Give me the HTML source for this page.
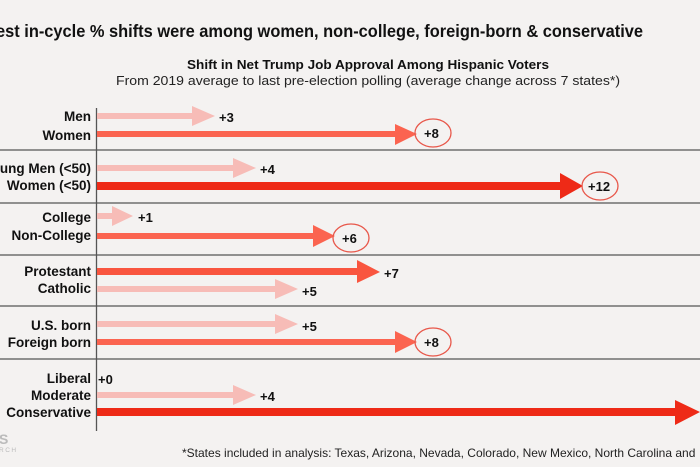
<!DOCTYPE html>
<html><head><meta charset="utf-8"><style>
html,body{margin:0;padding:0;background:#f4f2f1;}
svg{display:block;font-family:"Liberation Sans",sans-serif;}
.l{font-weight:bold;font-size:13.5px;fill:#111;text-anchor:end;}
.v{font-weight:bold;font-size:13px;fill:#111;}
</style></head><body>
<svg width="700" height="467" viewBox="0 0 700 467" xmlns="http://www.w3.org/2000/svg">
<rect width="700" height="467" fill="#f4f2f1"/>
<text x="-4" y="37" font-size="17.5" font-weight="bold" fill="#111" textLength="647" lengthAdjust="spacingAndGlyphs">est in-cycle % shifts were among women, non-college, foreign-born &amp; conservative</text>
<text x="187" y="69" font-size="13" font-weight="bold" fill="#111" textLength="362" lengthAdjust="spacingAndGlyphs">Shift in Net Trump Job Approval Among Hispanic Voters</text>
<text x="116" y="85" font-size="13" fill="#222" textLength="504" lengthAdjust="spacingAndGlyphs">From 2019 average to last pre-election polling (average change across 7 states*)</text>
<g stroke="#555" stroke-width="1.3">
<line x1="0" y1="150" x2="700" y2="150"/><line x1="0" y1="203" x2="700" y2="203"/>
<line x1="0" y1="255" x2="700" y2="255"/><line x1="0" y1="306" x2="700" y2="306"/>
<line x1="0" y1="359" x2="700" y2="359"/>
<line x1="96.5" y1="108" x2="96.5" y2="431"/>
</g>
<g class="l">
<text class="l" x="91" y="121">Men</text><text class="l" x="91" y="140">Women</text>
<text class="l" x="91" y="173">ung Men (&lt;50)</text><text class="l" x="91" y="190">Women (&lt;50)</text>
<text class="l" x="91" y="222">College</text><text class="l" x="91" y="240">Non-College</text>
<text class="l" x="91" y="276">Protestant</text><text class="l" x="91" y="293">Catholic</text>
<text class="l" x="91" y="330">U.S. born</text><text class="l" x="91" y="347">Foreign born</text>
<text class="l" x="91" y="383">Liberal</text><text class="l" x="91" y="400">Moderate</text><text class="l" x="91" y="417">Conservative</text>
</g>
<g>
<path d="M97 113H192V106L215 116L192 126V119H97Z" fill="#f7bcb7"/>
<path d="M97 131H395V124L417 134L395 145V137H97Z" fill="#fb6450"/>
<path d="M97 165H233V158L256 168L233 178V171H97Z" fill="#f7bcb7"/>
<path d="M97 182H560V173L583 186L560 199V190H97Z" fill="#ee2a17"/>
<path d="M97 213H112V206L133 216L112 226V219H97Z" fill="#f7bcb7"/>
<path d="M97 233H313V225L335 236L313 247V239H97Z" fill="#fb6450"/>
<path d="M97 268H357V260L380 272L357 283V275H97Z" fill="#f9553f"/>
<path d="M97 286H275V279L298 289L275 299V292H97Z" fill="#f7bcb7"/>
<path d="M97 321H275V314L298 324L275 334V327H97Z" fill="#f7bcb7"/>
<path d="M97 339H395V331L417 342L395 353V345H97Z" fill="#fb6450"/>
<path d="M97 392H233V385L256 395L233 405V398H97Z" fill="#f7bcb7"/>
<path d="M97 408H675V400L700 412L675 425V416H97Z" fill="#ee2a17"/>
</g>
<g fill="none" stroke="#e8574a" stroke-width="1.3">
<ellipse cx="433" cy="133" rx="18" ry="14"/>
<ellipse cx="600" cy="186" rx="18" ry="14"/>
<ellipse cx="351" cy="238" rx="18" ry="14"/>
<ellipse cx="433" cy="342" rx="18" ry="14"/>
</g>
<text class="v" x="219" y="122">+3</text>
<text class="v" x="424" y="138">+8</text>
<text class="v" x="260" y="174">+4</text>
<text class="v" x="588" y="191">+12</text>
<text class="v" x="138" y="222">+1</text>
<text class="v" x="342" y="243">+6</text>
<text class="v" x="384" y="278">+7</text>
<text class="v" x="302" y="296">+5</text>
<text class="v" x="302" y="331">+5</text>
<text class="v" x="424" y="347">+8</text>
<text class="v" x="98" y="384">+0</text>
<text class="v" x="260" y="401">+4</text>
<text x="-1" y="444" font-size="14" font-weight="bold" fill="#bbb">S</text>
<text x="-1" y="452" font-size="6.5" fill="#bbb" letter-spacing="1.5">RCH</text>
<text x="182" y="457" font-size="12" fill="#222">*States included in analysis: Texas, Arizona, Nevada, Colorado, New Mexico, North Carolina and</text>
</svg>
</body></html>
